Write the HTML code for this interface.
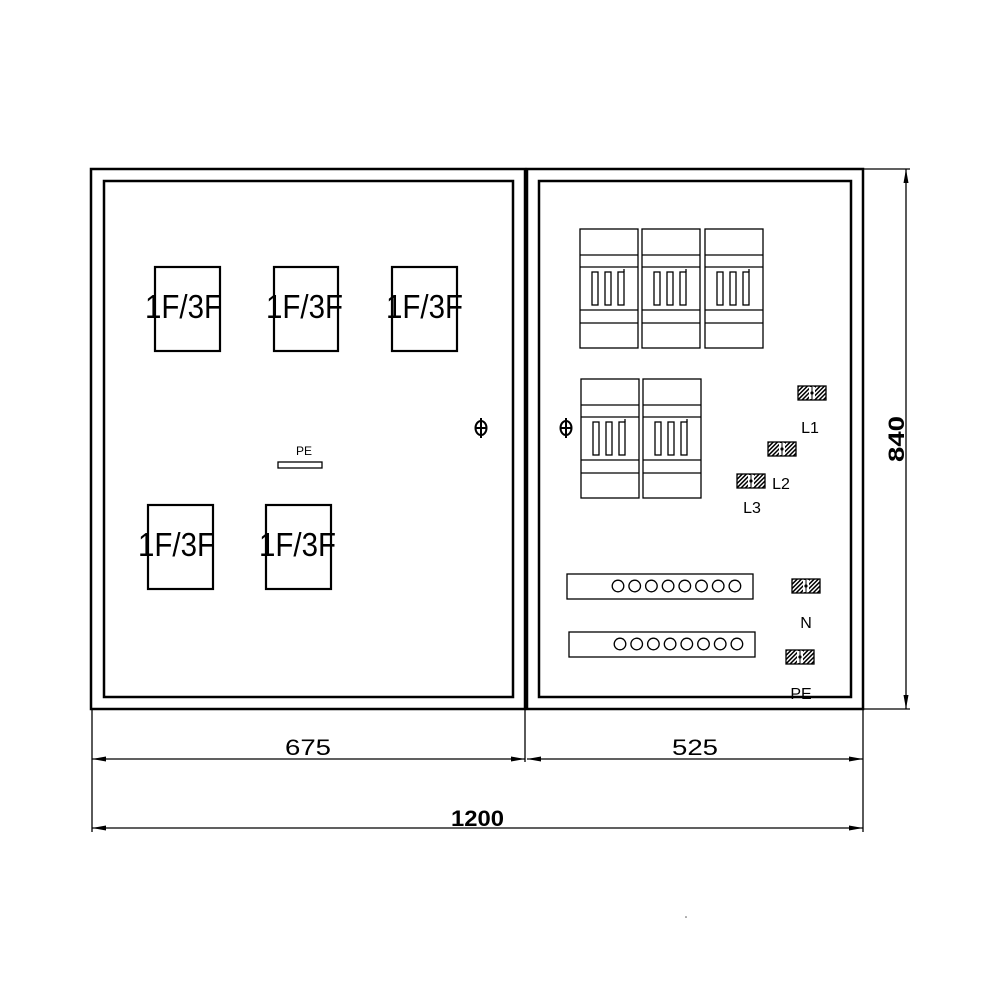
<!DOCTYPE html>
<html><head><meta charset="utf-8"><style>body{margin:0;background:#fff}svg{display:block}</style></head>
<body>
<svg width="1000" height="1000" viewBox="0 0 1000 1000" xmlns="http://www.w3.org/2000/svg" font-family="Liberation Sans, sans-serif">
<defs>
<pattern id="h" width="3" height="3" patternUnits="userSpaceOnUse" patternTransform="rotate(45)"><rect width="3" height="3" fill="#fff"/><rect width="1.5" height="3" fill="#000"/></pattern>
<g id="brk" fill="none" stroke="#000" stroke-width="1.3">
<rect x="0" y="0" width="58" height="119"/>
<line x1="0" y1="26" x2="58" y2="26"/><line x1="0" y1="38" x2="58" y2="38"/>
<line x1="0" y1="81" x2="58" y2="81"/><line x1="0" y1="94" x2="58" y2="94"/>
<rect x="12" y="43" width="6" height="33"/><rect x="25" y="43" width="6" height="33"/><rect x="38" y="43" width="6" height="33"/>
<line x1="44" y1="40" x2="44" y2="43"/>
</g>
<g id="term">
<rect x="0" y="0" width="28" height="14" fill="url(#h)" stroke="#000" stroke-width="1.3"/>
<rect x="11" y="1" width="6" height="12" fill="#fff"/>
<line x1="14" y1="1" x2="14" y2="13" stroke="#000"/>
<circle cx="14" cy="7" r="1.6" fill="#000"/>
</g>
<g id="bus" fill="none" stroke="#000" stroke-width="1.3">
<circle cx="0" cy="0" r="5.8"/><circle cx="16.7" cy="0" r="5.8"/><circle cx="33.4" cy="0" r="5.8"/><circle cx="50.1" cy="0" r="5.8"/>
<circle cx="66.8" cy="0" r="5.8"/><circle cx="83.5" cy="0" r="5.8"/><circle cx="100.2" cy="0" r="5.8"/><circle cx="116.9" cy="0" r="5.8"/>
</g>
</defs>
<g fill="none" stroke="#000" stroke-width="2.5">
<rect x="91" y="169" width="434" height="540"/>
<rect x="527" y="169" width="336" height="540"/>
<rect x="104" y="181" width="409" height="516"/>
<rect x="539" y="181" width="312" height="516"/>
</g>
<g fill="none" stroke="#000" stroke-width="2.2">
<rect x="155" y="267" width="65" height="84"/>
<rect x="274" y="267" width="64" height="84"/>
<rect x="392" y="267" width="65" height="84"/>
<rect x="148" y="505" width="65" height="84"/>
<rect x="266" y="505" width="65" height="84"/>
</g>
<g font-size="33" fill="#000" lengthAdjust="spacingAndGlyphs">
<text x="145" y="318" textLength="77" lengthAdjust="spacingAndGlyphs">1F/3F</text>
<text x="266" y="318" textLength="77" lengthAdjust="spacingAndGlyphs">1F/3F</text>
<text x="386" y="318" textLength="77" lengthAdjust="spacingAndGlyphs">1F/3F</text>
<text x="138" y="556" textLength="77" lengthAdjust="spacingAndGlyphs">1F/3F</text>
<text x="259" y="556" textLength="77" lengthAdjust="spacingAndGlyphs">1F/3F</text>
</g>
<rect x="278" y="462" width="44" height="6" fill="none" stroke="#000" stroke-width="1.3"/>
<text x="304" y="455" font-size="12" text-anchor="middle">PE</text>
<g fill="none" stroke="#000" stroke-width="2">
<ellipse cx="481" cy="428" rx="5.5" ry="7"/><line x1="481" y1="418" x2="481" y2="438"/><line x1="475" y1="428" x2="487" y2="428"/>
<ellipse cx="566" cy="428" rx="5.5" ry="7"/><line x1="566" y1="418" x2="566" y2="438"/><line x1="560" y1="428" x2="572" y2="428"/>
</g>
<use href="#brk" x="580" y="229"/><use href="#brk" x="642" y="229"/><use href="#brk" x="705" y="229"/>
<use href="#brk" x="581" y="379"/><use href="#brk" x="643" y="379"/>
<use href="#term" x="798" y="386"/><use href="#term" x="768" y="442"/><use href="#term" x="737" y="474"/>
<use href="#term" x="792" y="579"/><use href="#term" x="786" y="650"/>
<g font-size="16" text-anchor="middle">
<text x="810" y="433">L1</text><text x="781" y="489">L2</text><text x="752" y="513">L3</text>
<text x="806" y="628">N</text><text x="801" y="699">PE</text>
</g>
<rect x="567" y="574" width="186" height="25" fill="none" stroke="#000" stroke-width="1.3"/>
<use href="#bus" x="618" y="586"/>
<rect x="569" y="632" width="186" height="25" fill="none" stroke="#000" stroke-width="1.3"/>
<use href="#bus" x="620" y="644"/>
<g stroke="#000" stroke-width="1.3" fill="none">
<line x1="92" y1="709" x2="92" y2="832"/><line x1="525" y1="709" x2="525" y2="762"/><line x1="863" y1="709" x2="863" y2="832"/>
<line x1="863" y1="169" x2="910" y2="169"/><line x1="863" y1="709" x2="910" y2="709"/>
<line x1="92" y1="759" x2="525" y2="759"/><line x1="527" y1="759" x2="863" y2="759"/>
<line x1="92" y1="828" x2="863" y2="828"/>
<line x1="906" y1="169" x2="906" y2="709"/>
</g>
<g fill="#000">
<path d="M92 759 l14 -2.5 v5z"/><path d="M525 759 l-14 -2.5 v5z"/>
<path d="M527 759 l14 -2.5 v5z"/><path d="M863 759 l-14 -2.5 v5z"/>
<path d="M92 828 l14 -2.5 v5z"/><path d="M863 828 l-14 -2.5 v5z"/>
<path d="M906 169 l-2.5 14 h5z"/><path d="M906 709 l-2.5 -14 h5z"/>
</g>
<g font-size="22">
<text x="285" y="755" textLength="46" lengthAdjust="spacingAndGlyphs">675</text>
<text x="672" y="755" textLength="46" lengthAdjust="spacingAndGlyphs">525</text>
<text x="451" y="826" font-weight="bold" textLength="53" lengthAdjust="spacingAndGlyphs">1200</text>
<text x="0" y="0" font-weight="bold" transform="translate(904,462) rotate(-90)" textLength="46" lengthAdjust="spacingAndGlyphs">840</text>
</g>
<circle cx="686" cy="917" r="0.8" fill="#555"/>
</svg>
</body></html>
